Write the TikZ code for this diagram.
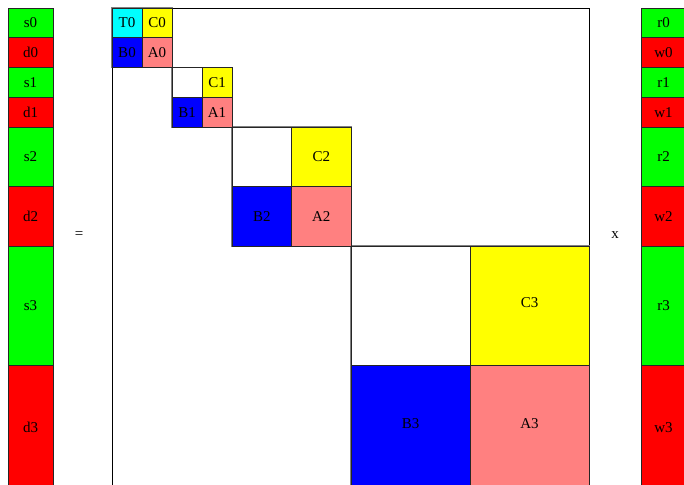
\documentclass[tikz,border=0pt]{standalone}
\usepackage{fontspec}
\setmainfont{Liberation Serif}
\definecolor{cgreen}{RGB}{0,255,0}
\definecolor{cred}{RGB}{255,0,0}
\definecolor{ccyan}{RGB}{0,255,255}
\definecolor{cyellow}{RGB}{255,255,0}
\definecolor{cblue}{RGB}{0,0,255}
\definecolor{cpink}{RGB}{255,128,128}
\begin{document}
\begin{tikzpicture}[x=1pt,y=-1pt,
  cellbox/.style={draw=black!85, line width=0.6pt, inner sep=0pt, font=\fontsize{15}{17}\selectfont},
  blockbox/.style={draw=black!50, line width=1.1pt, inner sep=0pt},
  sym/.style={font=\fontsize{15}{17}\selectfont, inner sep=0pt}]
\clip (0,0) rectangle (684,484);
\fill[white] (0,0) rectangle (684,484);
% helper: cell from (x1,y1) to (x2,y2)
\newcommand{\cellat}[7]{%
  \node[cellbox, fill=#5, minimum width={(#3-#1)*1pt}, minimum height={(#4-#2)*1pt}] (#6) at ({(#1+#3)/2},{(#2+#4)/2}) {#7};}
% left vector
\cellat{8}{8}{53}{37.75}{cgreen}{s0}{s0}
\cellat{8}{37.75}{53}{67.5}{cred}{d0}{d0}
\cellat{8}{67.5}{53}{97.25}{cgreen}{s1}{s1}
\cellat{8}{97.25}{53}{127}{cred}{d1}{d1}
\cellat{8}{127}{53}{186.5}{cgreen}{s2}{s2}
\cellat{8}{186.5}{53}{246}{cred}{d2}{d2}
\cellat{8}{246}{53}{365}{cgreen}{s3}{s3}
\cellat{8}{365}{53}{490}{cred}{d3}{d3}
% right vector
\cellat{641}{8}{686}{37.75}{cgreen}{r0}{r0}
\cellat{641}{37.75}{686}{67.5}{cred}{w0}{w0}
\cellat{641}{67.5}{686}{97.25}{cgreen}{r1}{r1}
\cellat{641}{97.25}{686}{127}{cred}{w1}{w1}
\cellat{641}{127}{686}{186.5}{cgreen}{r2}{r2}
\cellat{641}{186.5}{686}{246}{cred}{w2}{w2}
\cellat{641}{246}{686}{365}{cgreen}{r3}{r3}
\cellat{641}{365}{686}{490}{cred}{w3}{w3}
% main matrix
\node[draw=black, line width=0.9pt, inner sep=0pt, minimum width=477pt, minimum height=490pt] (M) at (350.5,253) {};
% block outlines
\node[blockbox, minimum width=60pt, minimum height=59.5pt] (blk0) at (142,37.75) {};
\node[blockbox, minimum width=60pt, minimum height=59.5pt] (blk1) at (202,97.25) {};
\node[blockbox, minimum width=119pt, minimum height=119pt] (blk2) at (291.5,186.5) {};
\node[blockbox, minimum width=238pt, minimum height=250pt] (blk3) at (470,371) {};
% block 0
\cellat{112}{8}{142}{37.75}{ccyan}{T0}{T0}
\cellat{142}{8}{172}{37.75}{cyellow}{C0}{C0}
\cellat{112}{37.75}{142}{67.5}{cblue}{B0}{B0}
\cellat{142}{37.75}{172}{67.5}{cpink}{A0}{A0}
% block 1
\cellat{172}{67.5}{202}{97.25}{white}{W1}{}
\cellat{202}{67.5}{232}{97.25}{cyellow}{C1}{C1}
\cellat{172}{97.25}{202}{127}{cblue}{B1}{B1}
\cellat{202}{97.25}{232}{127}{cpink}{A1}{A1}
% block 2
\cellat{232}{127}{291.5}{186.5}{white}{W2}{}
\cellat{291.5}{127}{351}{186.5}{cyellow}{C2}{C2}
\cellat{232}{186.5}{291.5}{246}{cblue}{B2}{B2}
\cellat{291.5}{186.5}{351}{246}{cpink}{A2}{A2}
% block 3
\cellat{351}{246}{470}{365}{white}{W3}{}
\node[cellbox, fill=cyellow, minimum width=119pt, minimum height=119pt] (C3) at (529.5,305.5) {\raisebox{5pt}{C3}};
\node[cellbox, fill=cblue, minimum width=119pt, minimum height=125pt] (B3) at (410.5,427.5) {\raisebox{8pt}{B3}};
\node[cellbox, fill=cpink, minimum width=119pt, minimum height=125pt] (A3) at (529.5,427.5) {\raisebox{8pt}{A3}};
% operators
\node[sym] (eq) at (79,235) {=};
\node[sym] (times) at (615,235) {x};
\end{tikzpicture}
\end{document}
